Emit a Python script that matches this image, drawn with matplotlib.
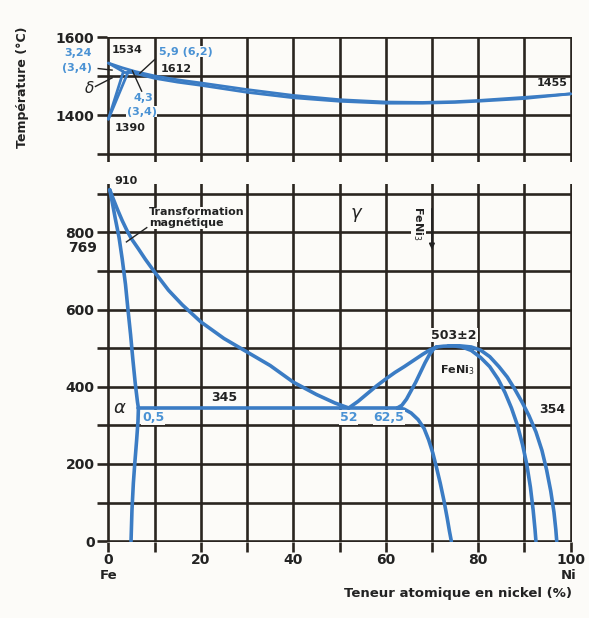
import matplotlib
matplotlib.use('Agg')
import matplotlib.pyplot as plt

# top panel: liquidus / solidus (Ni at.%, temperature degC)
liq_ni = [0, 3, 5.9, 10, 15, 20, 30, 40, 50, 60, 68, 75, 80, 90, 100]
liq_t = [1534, 1522, 1512, 1501, 1491, 1483, 1466, 1451, 1440, 1434, 1433, 1435, 1438, 1446, 1455]
sol_ni = [4.3, 10, 15, 20, 30, 40, 50, 60, 68, 75, 80, 90, 100]
sol_t = [1512, 1495, 1485, 1477, 1459, 1445, 1436, 1431, 1431, 1433, 1436, 1443, 1455]
delta_sol_ni = [0, 3.24]
delta_sol_t = [1534, 1512]
perit_ni = [3.24, 5.9]
perit_t = [1512, 1512]
delta_a_ni = [0, 3.24]
delta_a_t = [1390, 1512]
delta_b_ni = [0, 4.3]
delta_b_t = [1390, 1512]

# bottom panel: solid state boundaries
alpha_ni = [0.3, 0.8, 1.5, 2.3, 3.0, 3.7, 4.2, 4.8, 5.3, 5.8, 6.3, 6.5,
            6.4, 6.1, 5.7, 5.4, 5.1, 4.9]
alpha_t = [910, 880, 835, 787, 730, 665, 604, 535, 470, 410, 360, 345,
           310, 260, 200, 150, 80, 0]
gamma_ni = [0.3, 1, 2, 3, 4, 5, 6.5, 8, 10, 13, 16, 20, 25, 30, 35, 40, 45, 49, 52]
gamma_t = [910, 888, 858, 830, 805, 783, 757, 730, 697, 650, 612, 568, 525, 490,
           455, 412, 380, 358, 345]
eut_ni = [6.5, 62.5]
eut_t = [345, 345]
l52_ni = [52, 54, 56, 58, 60, 62, 64, 66, 68, 69.5, 71]
l52_t = [345, 362, 382, 402, 420, 437, 452, 468, 484, 495, 503]
l62_ni = [62.5, 63.5, 64.5, 65.5, 66.5, 67.5, 68.5, 69.5, 70.3, 71]
l62_t = [345, 352, 368, 390, 412, 437, 462, 484, 497, 503]
low_ni = [62.5, 64, 65.5, 67, 68.3, 69.3, 70.2, 71, 71.8, 72.6, 73.3, 73.8, 74.2]
low_t = [345, 342, 332, 315, 292, 262, 228, 190, 150, 105, 60, 25, 0]
inner_ni = [71, 72.5, 74.5, 76.5, 78.5, 80.5, 82.5, 84.3, 85.8, 87.2, 88.5,
            89.6, 90.5, 91.3, 91.9, 92.3, 92.5]
inner_t = [503, 505, 506, 503, 494, 476, 452, 420, 385, 345, 300,
           250, 200, 140, 80, 30, 0]
outer_ni = [73.5, 76, 78.5, 80.5, 82.5, 84.5, 86.3, 88, 89.5, 91, 92.5,
            93.8, 94.8, 95.7, 96.4, 96.8, 97]
outer_t = [506, 506, 503, 495, 478, 452, 425, 392, 360, 325, 283,
           235, 185, 130, 75, 30, 0]

xticks = list(range(0, 101, 10))
xlabels = ['0', '', '20', '', '40', '', '60', '', '80', '', '100']
top_yticks = [1300, 1400, 1500, 1600]
top_ylabels = ['', '1400', '', '1600']
bot_yticks = list(range(0, 901, 100))
bot_ylabels = ['0', '', '200', '', '400', '', '600', '', '800', '']

BLUE = '#3b7cc4'
TBLUE = '#4a92d4'
GRID = '#2a2520'
BG = '#fcfbf8'

plt.rcParams['font.family'] = 'DejaVu Sans'

fig = plt.figure(figsize=(5.89, 6.18), dpi=100, facecolor=BG)
ax_top = fig.add_axes([107/589, 1-162/618, 465/589, 125/618])
ax_bot = fig.add_axes([107/589, 1-542/618, 465/589, 358/618])

for ax in (ax_top, ax_bot):
    ax.set_facecolor(BG)
    for s in ax.spines.values():
        s.set_visible(False)
    ax.set_xlim(-0.3, 100.3)
    ax.set_xticks(xticks)
    ax.grid(True, color=GRID, lw=1.9)
    ax.set_axisbelow(True)
    ax.tick_params(direction='out', length=7, width=1.9, color=GRID,
                   labelsize=10, labelcolor='#222', pad=2)

ax_top.set_ylim(1280, 1601)
ax_top.set_yticks(top_yticks)
ax_top.set_yticklabels(top_ylabels, fontweight='bold')
ax_top.tick_params(axis='x', length=0, labelbottom=False)

ax_bot.set_ylim(-2, 925)
ax_bot.set_yticks(bot_yticks)
ax_bot.set_yticklabels(bot_ylabels, fontweight='bold')
ax_bot.set_xticklabels(xlabels, fontweight='bold')
ax_bot.tick_params(axis='x', pad=1)

for xs, ys in [(liq_ni, liq_t), (sol_ni, sol_t), (delta_sol_ni, delta_sol_t),
               (perit_ni, perit_t), (delta_a_ni, delta_a_t), (delta_b_ni, delta_b_t)]:
    ax_top.plot(xs, ys, color=BLUE, lw=2.0, solid_capstyle='round', solid_joinstyle='round', zorder=3)

for xs, ys in [(alpha_ni, alpha_t), (gamma_ni, gamma_t), (eut_ni, eut_t),
               (l52_ni, l52_t), (l62_ni, l62_t), (low_ni, low_t),
               (inner_ni, inner_t), (outer_ni, outer_t)]:
    ax_bot.plot(xs, ys, color=BLUE, lw=2.6, solid_capstyle='round', solid_joinstyle='round', zorder=3)

box = dict(facecolor=BG, edgecolor='none', pad=0.5)
kw = dict(fontsize=8, fontweight='bold', zorder=5)

# top panel annotations
ax_top.text(-3.5, 1561, '3,24', color=TBLUE, ha='right', va='center', **kw)
ax_top.text(-3.5, 1522, '(3,4)', color=TBLUE, ha='right', va='center', **kw)
ax_top.plot([-2.2, 0.8], [1520, 1516], color='#222', lw=1, clip_on=False, zorder=4)
ax_top.text(-4.2, 1470, '$\\delta$', color='#222', ha='center', va='center', fontsize=11, zorder=5)
ax_top.plot([-2.8, 0.8], [1474, 1496], color='#222', lw=1, clip_on=False, zorder=4)
ax_top.text(4.0, 1567, '1534', color='#222', ha='center', va='center', bbox=box, **kw)
ax_top.text(11, 1563, '5,9 (6,2)', color=TBLUE, ha='left', va='center', bbox=box, **kw)
ax_top.plot([10, 6.8], [1543, 1508], color='#222', lw=1, zorder=4)
ax_top.text(11.3, 1519, '1612', color='#222', ha='left', va='center', bbox=box, **kw)
ax_top.plot([5.2, 7.2], [1514, 1462], color='#222', lw=1, zorder=4)
ax_top.text(7.6, 1445, '4,3', color=TBLUE, ha='center', va='center', **kw)
ax_top.text(7.2, 1409, '(3,4)', color=TBLUE, ha='center', va='center', bbox=box, **kw)
ax_top.text(4.7, 1367, '1390', color='#222', ha='center', va='center', **kw)
ax_top.text(99.3, 1482, '1455', color='#222', ha='right', va='center', bbox=box, **kw)
ax_top.set_ylabel('Température (°C)', fontsize=9, fontweight='bold', color='#222')
ax_top.yaxis.set_label_coords(-0.168, 0.6)

# bottom panel annotations
ax_bot.text(3.8, 934, '910', color='#222', ha='center', va='center', **kw)
ax_bot.text(-2.5, 758, '769', color='#222', ha='right', va='center', fontsize=10, fontweight='bold')
ax_bot.text(8.8, 838, 'Transformation\nmagnétique', color='#222', ha='left', va='center',
            linespacing=1.0, bbox=box, **kw)
ax_bot.plot([3.9, 8.3], [775, 812], color='#222', lw=1, zorder=4)
ax_bot.text(53.8, 845, '$\\gamma$', color='#222', ha='center', va='center', fontsize=13, zorder=5)
ax_bot.text(67.0, 822, 'FeNi$_3$', color='#222', ha='center', va='center', rotation=-90,
            bbox=box, **kw)
ax_bot.annotate('', xy=(70, 748), xytext=(70, 868),
                arrowprops=dict(arrowstyle='-|>', color='#222', lw=1.2, mutation_scale=8),
                zorder=5)
ax_bot.text(74.8, 534, '503±2', color='#222', ha='center', va='center', bbox=box, fontsize=9,
            fontweight='bold', zorder=5)
ax_bot.text(75.5, 444, 'FeNi$_3$', color='#222', ha='center', va='center', bbox=box, **kw)
ax_bot.text(25, 372, '345', color='#222', ha='center', va='center', bbox=box, fontsize=9,
            fontweight='bold', zorder=5)
ax_bot.text(2.4, 346, '$\\alpha$', color='#222', ha='center', va='center', fontsize=13, zorder=5)
ax_bot.text(9.7, 320, '0,5', color=TBLUE, ha='center', va='center', bbox=box, fontsize=9,
            fontweight='bold', zorder=5)
ax_bot.text(52, 320, '52', color=TBLUE, ha='center', va='center', bbox=box, fontsize=9,
            fontweight='bold', zorder=5)
ax_bot.text(60.7, 320, '62,5', color=TBLUE, ha='center', va='center', bbox=box, fontsize=9,
            fontweight='bold', zorder=5)
ax_bot.text(96, 341, '354', color='#222', ha='center', va='center', bbox=box, fontsize=9,
            fontweight='bold', zorder=5)

ax_bot.text(0, -88, 'Fe', color='#222', ha='center', va='center', fontsize=9.5, fontweight='bold')
ax_bot.text(99.5, -88, 'Ni', color='#222', ha='center', va='center', fontsize=9.5, fontweight='bold')
ax_bot.text(100.3, -135, 'Teneur atomique en nickel (%)', color='#222', ha='right', va='center',
            fontsize=9.5, fontweight='bold')

fig.savefig('out.png', dpi=100, facecolor=BG)
